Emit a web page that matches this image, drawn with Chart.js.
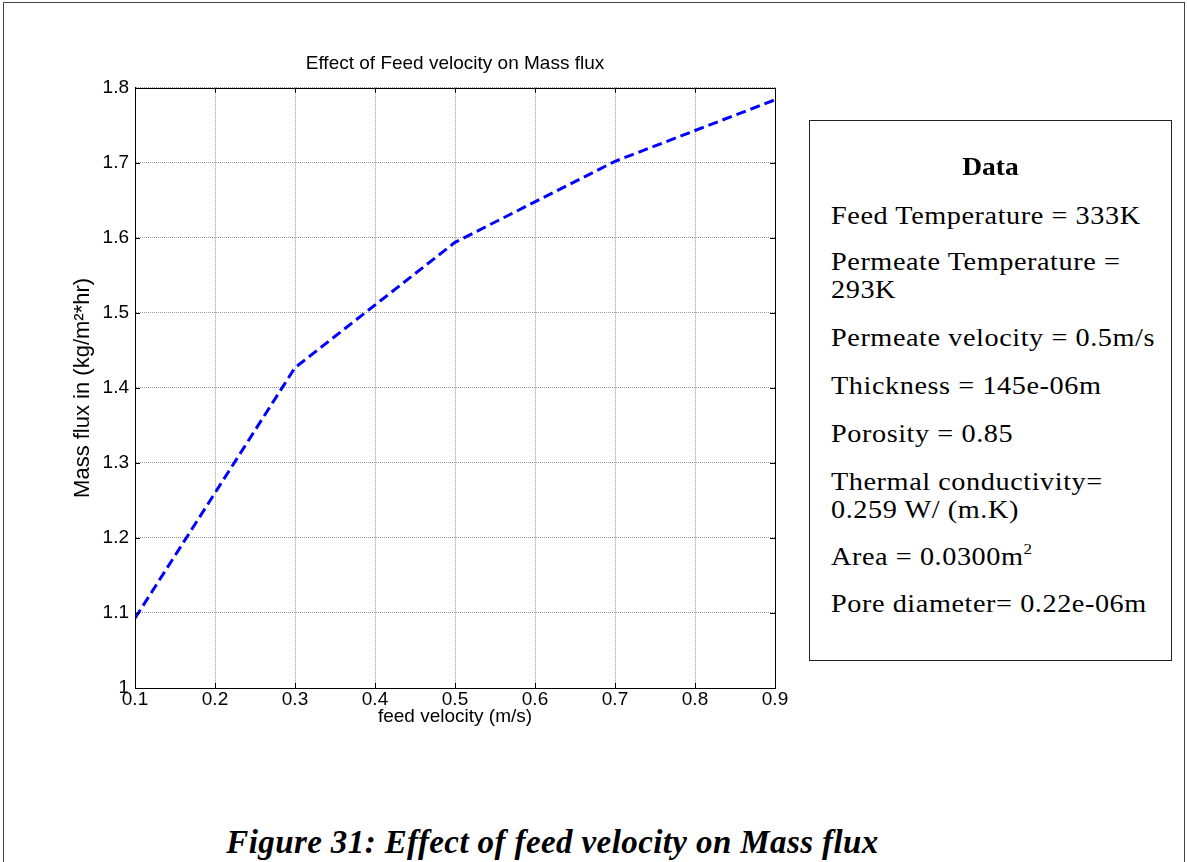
<!DOCTYPE html>
<html>
<head>
<meta charset="utf-8">
<script src="https://cdn.jsdelivr.net/npm/chart.js@4/dist/chart.umd.min.js"></script>
<style>
  html, body { margin: 0; padding: 0; background: #fff; width: 1187px; height: 862px; overflow: hidden; }
  #frame { position: absolute; left: 3px; top: 2px; width: 1182px; height: 880px; border: 1px solid #444; box-sizing: border-box; }
  #wrap { position: absolute; left: 0; top: 0; width: 800px; height: 728px; }
  #box { position: absolute; left: 809px; top: 120px; width: 363px; height: 541px; border: 1px solid #222; box-sizing: border-box;
         font-family: "Liberation Serif", "Times New Roman", serif; font-size: 25px; color: #000; }
  #box .t { position: absolute; left: 0; width: 100%; text-align: center; font-weight: bold; line-height: 28px; transform: scaleX(1.1); }
  #box .l { position: absolute; left: 21px; white-space: nowrap; line-height: 28px; letter-spacing: 0.5px; transform: scaleX(1.13); transform-origin: 0 0; }
  #caption { position: absolute; left: 0; width: 1105px; top: 823px; text-align: center; white-space: nowrap; line-height: 38px;
             font-family: "Liberation Serif", "Times New Roman", serif; font-weight: bold; font-style: italic; font-size: 33px; letter-spacing: 0.4px; }
</style>
</head>
<body>
<div id="frame"></div>
<div id="wrap"><canvas id="c" width="800" height="728"></canvas></div>
<div id="box">
  <div class="t" style="top:32px">Data</div>
  <div class="l" style="top:81px">Feed Temperature = 333K</div>
  <div class="l" style="top:127px">Permeate Temperature =<br>293K</div>
  <div class="l" style="top:203px">Permeate velocity = 0.5m/s</div>
  <div class="l" style="top:251px">Thickness = 145e-06m</div>
  <div class="l" style="top:299px">Porosity = 0.85</div>
  <div class="l" style="top:347px">Thermal conductivity=<br>0.259 W/ (m.K)</div>
  <div class="l" style="top:422px">Area = 0.0300m<sup style="font-size:15px;vertical-align:11px;line-height:0">2</sup></div>
  <div class="l" style="top:469px">Pore diameter= 0.22e-06m</div>
</div>
<div id="caption">Figure 31: Effect of feed velocity on Mass flux</div>
<script>
const feedVelocity = [0.1, 0.3, 0.5, 0.7, 0.9];
const massFlux = [1.093, 1.427, 1.594, 1.702, 1.784];
const xTicks = [0.1, 0.2, 0.3, 0.4, 0.5, 0.6, 0.7, 0.8, 0.9];
const yTicks = [1, 1.1, 1.2, 1.3, 1.4, 1.5, 1.6, 1.7, 1.8];

const matlabFrame = {
  id: 'matlabFrame',
  afterDatasetsDraw(chart) {
    const { ctx, chartArea: a, scales } = chart;
    ctx.save();
    ctx.strokeStyle = '#000';
    ctx.lineWidth = 1;
    ctx.strokeRect(Math.round(a.left) + 0.5, Math.round(a.top) + 0.5, Math.round(a.right - a.left), Math.round(a.bottom - a.top));
    const t = 5;
    ctx.beginPath();
    xTicks.forEach(v => {
      const x = Math.round(scales.x.getPixelForValue(v)) + 0.5;
      ctx.moveTo(x, a.bottom); ctx.lineTo(x, a.bottom - t);
      ctx.moveTo(x, a.top); ctx.lineTo(x, a.top + t);
    });
    yTicks.forEach(v => {
      const y = Math.round(scales.y.getPixelForValue(v)) + 0.5;
      ctx.moveTo(a.left, y); ctx.lineTo(a.left + t, y);
      ctx.moveTo(a.right, y); ctx.lineTo(a.right - t, y);
    });
    ctx.stroke();
    ctx.restore();
  }
};

const font = "'Liberation Sans', Arial, sans-serif";
new Chart(document.getElementById('c'), {
  type: 'line',
  data: {
    datasets: [{
      data: feedVelocity.map((x, i) => ({ x, y: massFlux[i] })),
      borderColor: '#0000ff',
      borderWidth: 3,
      borderDash: [10, 5],
      pointRadius: 0,
      tension: 0,
      fill: false
    }]
  },
  options: {
    responsive: false,
    animation: false,
    events: [],
    layout: { padding: { left: 0, right: 25, top: 0, bottom: 0 } },
    plugins: {
      legend: { display: false },
      tooltip: { enabled: false },
      title: {
        display: true,
        fullSize: false,
        text: 'Effect of Feed velocity on Mass flux',
        color: '#000',
        font: { family: font, size: 19, weight: 'normal' },
        padding: { top: 52, bottom: 13 }
      }
    },
    scales: {
      x: {
        type: 'linear', min: 0.1, max: 0.9,
        afterBuildTicks: s => { s.ticks = xTicks.map(v => ({ value: v })); },
        afterFit: s => { s.height = 40; },
        ticks: { color: '#000', font: { family: font, size: 19 }, padding: 0, callback: v => String(v), maxRotation: 0, autoSkip: false },
        grid: { color: '#999', lineWidth: 1, drawTicks: false },
        border: { display: true, color: '#000', dash: [1, 1] },
        title: { display: true, text: 'feed velocity (m/s)', color: '#000', font: { family: font, size: 19 }, padding: { top: 0, bottom: 0 } }
      },
      y: {
        type: 'linear', min: 1, max: 1.8,
        afterBuildTicks: s => { s.ticks = yTicks.map(v => ({ value: v })); },
        afterFit: s => { s.width = 135; },
        ticks: { color: '#000', font: { family: font, size: 19 }, padding: 6, callback: v => String(v), autoSkip: false },
        grid: { color: '#999', lineWidth: 1, drawTicks: false },
        border: { display: true, color: '#000', dash: [1, 1] },
        title: { display: true, text: 'Mass flux in (kg/m²*hr)', color: '#000', font: { family: font, size: 22 }, padding: { top: 70, bottom: 0 } }
      }
    }
  },
  plugins: [matlabFrame]
});
</script>
</body>
</html>
